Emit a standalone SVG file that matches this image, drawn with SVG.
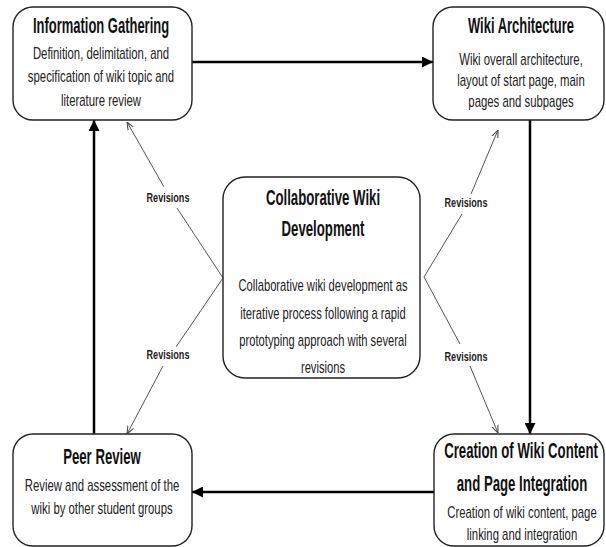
<svg xmlns="http://www.w3.org/2000/svg" width="606" height="547" viewBox="0 0 606 547">
<defs>
<style>
.box{fill:#fff;stroke:#222;stroke-width:1.4}
.t{font-family:"Liberation Sans",Arial,sans-serif;font-weight:bold;font-size:22px;fill:#111;text-anchor:middle}
.b{font-family:"Liberation Sans",Arial,sans-serif;font-size:16px;fill:#222;text-anchor:middle}
.r{font-family:"Liberation Sans",Arial,sans-serif;font-weight:bold;font-size:13px;fill:#222;text-anchor:middle}
.main{stroke:#000;stroke-width:2.5;fill:none}
.rev{stroke:#555;stroke-width:1;fill:none}
</style>
<marker id="ah" viewBox="0 0 10 10" refX="10" refY="5" markerUnits="userSpaceOnUse" markerWidth="14" markerHeight="11" orient="auto">
<path d="M0,0 L10,5 L0,10 z" fill="#000"/>
</marker>
<marker id="oh" viewBox="0 0 10 10" refX="10" refY="5" markerUnits="userSpaceOnUse" markerWidth="8" markerHeight="8" orient="auto">
<path d="M0,1 L10,5 L0,9" fill="none" stroke="#444" stroke-width="1.3"/>
</marker>
</defs>
<rect width="606" height="547" fill="#fff"/>

<g id="connectors">
<line class="main" x1="192" y1="62" x2="433" y2="62" marker-end="url(#ah)"/>
<line class="main" x1="530" y1="120" x2="530" y2="434" marker-end="url(#ah)"/>
<line class="main" x1="434" y1="492" x2="192" y2="492" marker-end="url(#ah)"/>
<line class="main" x1="94" y1="434" x2="94" y2="120" marker-end="url(#ah)"/>

<line class="rev" x1="223" y1="278" x2="177" y2="208"/>
<line class="rev" x1="164" y1="187" x2="127" y2="122" marker-end="url(#oh)"/>
<text class="r" transform="translate(168,202) scale(0.7,1)">Revisions</text>

<line class="rev" x1="223" y1="278" x2="176" y2="347"/>
<line class="rev" x1="163" y1="366" x2="127" y2="434" marker-end="url(#oh)"/>
<text class="r" transform="translate(168,359) scale(0.7,1)">Revisions</text>

<line class="rev" x1="424" y1="277" x2="462" y2="214"/>
<line class="rev" x1="471" y1="194" x2="498" y2="130" marker-end="url(#oh)"/>
<text class="r" transform="translate(466,207) scale(0.7,1)">Revisions</text>

<line class="rev" x1="424" y1="277" x2="460" y2="344"/>
<line class="rev" x1="470" y1="366" x2="498" y2="433" marker-end="url(#oh)"/>
<text class="r" transform="translate(466,361) scale(0.7,1)">Revisions</text>
</g>

<g id="info-gathering">
<rect class="box" x="13" y="7" width="179" height="113" rx="20"/>
<text class="t" transform="translate(101,33) scale(0.59,1)">Information Gathering</text>
<text class="b" transform="translate(101,59) scale(0.71,1)">Definition, delimitation, and</text>
<text class="b" transform="translate(101,82) scale(0.71,1)">specification of wiki topic and</text>
<text class="b" transform="translate(101,106) scale(0.71,1)">literature review</text>
</g>

<g id="wiki-architecture">
<rect class="box" x="433" y="7" width="171" height="113" rx="20"/>
<text class="t" transform="translate(521,33) scale(0.59,1)">Wiki Architecture</text>
<text class="b" transform="translate(521,65) scale(0.71,1)">Wiki overall architecture,</text>
<text class="b" transform="translate(521,86) scale(0.71,1)">layout of start page, main</text>
<text class="b" transform="translate(521,107) scale(0.71,1)">pages and subpages</text>
</g>

<g id="collaborative">
<rect class="box" x="223" y="177" width="197" height="201" rx="22"/>
<text class="t" transform="translate(323,205) scale(0.6,1)">Collaborative Wiki</text>
<text class="t" transform="translate(323,236) scale(0.6,1)">Development</text>
<text class="b" transform="translate(323,291) scale(0.7,1)">Collaborative wiki development as</text>
<text class="b" transform="translate(323,319) scale(0.7,1)">iterative process following a rapid</text>
<text class="b" transform="translate(323,346) scale(0.7,1)">prototyping approach with several</text>
<text class="b" transform="translate(323,373) scale(0.7,1)">revisions</text>
</g>

<g id="peer-review">
<rect class="box" x="13" y="434" width="179" height="112" rx="20"/>
<text class="t" transform="translate(102,464) scale(0.6,1)">Peer Review</text>
<text class="b" transform="translate(102,491) scale(0.71,1)">Review and assessment of the</text>
<text class="b" transform="translate(102,514) scale(0.71,1)">wiki by other student groups</text>
</g>

<g id="creation">
<rect class="box" x="434" y="434" width="170" height="112" rx="20"/>
<text class="t" transform="translate(521,458) scale(0.6,1)">Creation of Wiki Content</text>
<text class="t" transform="translate(522,491) scale(0.6,1)">and Page Integration</text>
<text class="b" transform="translate(522,518) scale(0.71,1)">Creation of wiki content, page</text>
<text class="b" transform="translate(522,540) scale(0.71,1)">linking and integration</text>
</g>
</svg>
